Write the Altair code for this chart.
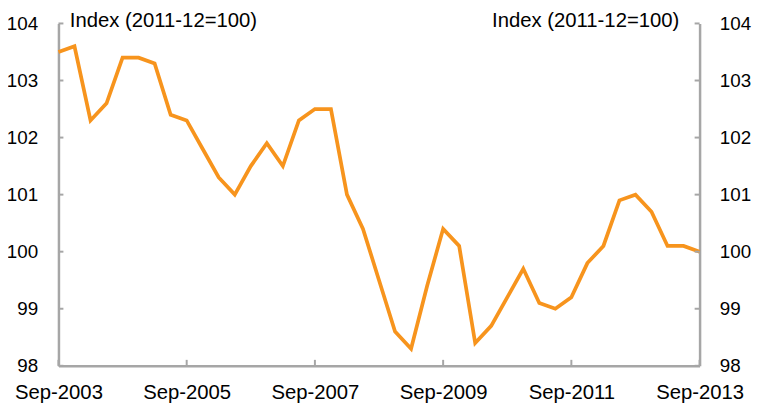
import altair as alt
import pandas as pd

# Quarterly index values, Sep-2003 .. Sep-2013
values = [103.5, 103.6, 102.3, 102.6, 103.4, 103.4, 103.3, 102.4, 102.3, 101.8,
          101.3, 101.0, 101.5, 101.9, 101.5, 102.3, 102.5, 102.5, 101.0, 100.4,
          99.5, 98.6, 98.3, 99.4, 100.4, 100.1, 98.4, 98.7, 99.2, 99.7,
          99.1, 99.0, 99.2, 99.8, 100.1, 100.9, 101.0, 100.7, 100.1, 100.1,
          100.0]
x_tick_pos = [0, 8, 16, 24, 32, 40]
x_tick_labels = ["Sep-2003", "Sep-2005", "Sep-2007", "Sep-2009", "Sep-2011", "Sep-2013"]
y_ticks = [98, 99, 100, 101, 102, 103, 104]
title_text = "Index (2011-12=100)"

W, H = 648, 346
GREY = "#A6A6A6"
FONT = "Liberation Sans"
ORANGE = "#F7941D"

df = pd.DataFrame({"q": list(range(len(values))), "v": values})
xt = pd.DataFrame({"q": x_tick_pos})
yt = pd.DataFrame({"v": y_ticks})

label_expr = "[" + ",".join(f"'{s}'" for s in x_tick_labels) + "][round(datum.value/8)]"

xscale = alt.Scale(domain=[0, 40], nice=False, zero=False)
yscale = alt.Scale(domain=[98, 104], nice=False, zero=False)

common_axis = dict(domainColor=GREY, domainWidth=2.5, ticks=False, tickSize=0,
                   grid=False, labelFont=FONT, labelColor="#000000")

line = alt.Chart(df).mark_line(color=ORANGE, strokeWidth=3.75, strokeJoin="miter").encode(
    x=alt.X("q:Q", scale=xscale,
            axis=alt.Axis(values=x_tick_pos, labelExpr=label_expr, title=None,
                          labelFontSize=20.5, labelPadding=17,
                          labelFlush=False, labelOverlap=False, **common_axis)),
    y=alt.Y("v:Q", scale=yscale,
            axis=alt.Axis(orient="left", values=y_ticks, labelPadding=21, labelFontSize=19,
                          title=title_text, titleAngle=0, titleAlign="left",
                          titleBaseline="alphabetic", titleX=11, titleY=3,
                          titleFont=FONT, titleFontSize=20.5, titleFontWeight="normal",
                          titleColor="#000000", **common_axis)),
)

right = alt.Chart(df).mark_line(opacity=0).encode(
    x=alt.X("q:Q", scale=xscale, axis=None),
    y=alt.Y("v:Q", scale=yscale,
            axis=alt.Axis(orient="right", values=y_ticks, labelPadding=20, labelFontSize=19,
                          title=title_text, titleAngle=0, titleAlign="right",
                          titleBaseline="alphabetic", titleX=-21, titleY=3,
                          titleFont=FONT, titleFontSize=20.5, titleFontWeight="normal",
                          titleColor="#000000", **common_axis)),
)

ytick_left = alt.Chart(yt).mark_rule(color=GREY, strokeWidth=2).encode(
    y=alt.Y("v:Q", scale=yscale, axis=None), x=alt.value(0), x2=alt.value(5))
ytick_right = alt.Chart(yt).mark_rule(color=GREY, strokeWidth=2).encode(
    y=alt.Y("v:Q", scale=yscale, axis=None), x=alt.value(W), x2=alt.value(W - 5))
xtick = alt.Chart(xt).mark_rule(color=GREY, strokeWidth=2).encode(
    x=alt.X("q:Q", scale=xscale, axis=None), y=alt.value(H), y2=alt.value(H - 6))

chart = alt.layer(line, right, ytick_left, ytick_right, xtick).resolve_axis(
    y="independent", x="independent").properties(
    width=W, height=H,
    autosize=alt.AutoSizeParams(type="none"),
    padding={"left": 51, "top": 13.5, "right": 55, "bottom": 38},
    background="white",
).configure_view(stroke=None)

chart.save("out.html", embed_options={"renderer": "svg", "actions": False})
